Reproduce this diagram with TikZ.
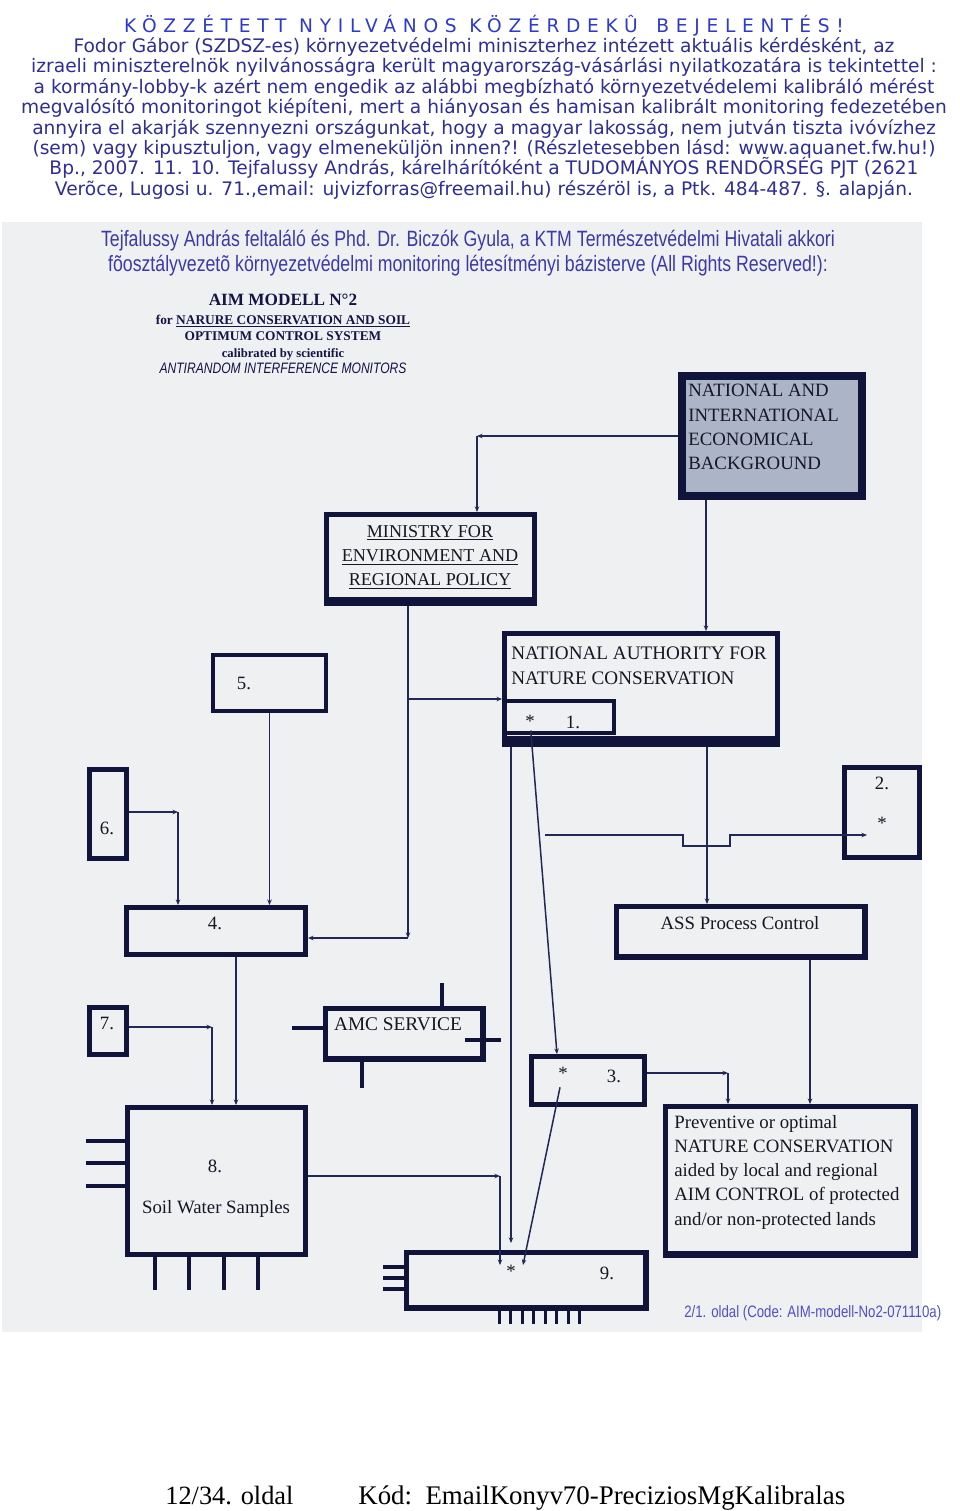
\documentclass[tikz,border=0pt]{standalone}
\usepackage{fontspec}
\setmainfont{Liberation Serif}
\newfontfamily\hdfont{DejaVu Sans}
\newfontfamily\hdwide[LetterSpace=36]{DejaVu Sans}
\newfontfamily\subfont[FakeStretch=0.8]{Liberation Sans}
\usetikzlibrary{arrows.meta, fit, calc}
\definecolor{ink}{RGB}{16,20,58}
\definecolor{wire}{RGB}{34,40,86}
\definecolor{panel}{RGB}{239,240,242}
\definecolor{dots}{RGB}{172,181,199}
\definecolor{hdblue}{RGB}{46,46,150}
\definecolor{hdbright}{RGB}{44,58,205}
\definecolor{subblue}{RGB}{58,58,168}
\definecolor{codeblue}{RGB}{80,80,200}
\definecolor{txt}{RGB}{22,22,36}
\definecolor{ttlc}{RGB}{20,20,70}

\begin{document}
\setlength{\lineskiplimit}{-30pt}
\begin{tikzpicture}[x=0.2mm, y=-0.2mm,
  box/.style={draw=ink, line width=1mm, fill=panel, inner sep=0pt},
  lbl/.style={font=\fontsize{10.7}{13.8}\selectfont, text=txt, inner sep=0pt},
  cn/.style={-{Stealth[length=1.1mm, width=0.9mm]}, wire, line width=0.3mm},
  stub/.style={ink, line width=0.75mm},
  hd/.style={font=\hdfont\fontsize{10.6}{11.6}\selectfont,
             text=hdblue, align=center, inner sep=0pt}
]
\path[fill=white, use as bounding box] (0,0) rectangle (960,1511);
\fill[panel] (2,222) rectangle (922,1332);

% headers
\node[hd] (hdr) at (484,107) {{\hdwide\fontsize{10.6}{11.6}\selectfont\color{hdbright}KÖZZÉTETT NYILVÁNOS KÖZÉRDEKÛ\quad BEJELENTÉS!}\\
  Fodor Gábor (SZDSZ-es) környezetvédelmi miniszterhez intézett aktuális kérdésként, az\\
  izraeli miniszterelnök nyilvánosságra került magyarország-vásárlási nyilatkozatára is tekintettel :\\
  a kormány-lobby-k azért nem engedik az alábbi megbízható környezetvédelemi kalibráló mérést\\
  megvalósító monitoringot kiépíteni, mert a hiányosan és hamisan kalibrált monitoring fedezetében\\
  annyira el akarják szennyezni országunkat, hogy a magyar lakosság, nem jutván tiszta ivóvízhez\\
  (sem) vagy kipusztuljon, vagy elmeneküljön innen?! (Részletesebben lásd: www.aquanet.fw.hu!)\\
  Bp., 2007. 11. 10. Tejfalussy András, kárelhárítóként a TUDOMÁNYOS RENDÕRSÉG PJT (2621\\
  Verõce, Lugosi u. 71.,email: ujvizforras@freemail.hu) részéröl is, a Ptk. 484-487. §. alapján.};
\node[hd, font=\subfont\fontsize{12.6}{14.2}\selectfont, text=subblue] (sub) at (468,253)
  {Tejfalussy András feltaláló és Phd. Dr. Biczók Gyula, a KTM Természetvédelmi Hivatali akkori\\
   fõosztályvezetõ környezetvédelmi monitoring létesítményi bázisterve (All Rights Reserved!):};
\node[font=\fontsize{7.6}{9.4}\selectfont\bfseries, text=ttlc, align=center, inner sep=0pt] (ttl) at (283,334)
  {{\fontsize{9.8}{11}\selectfont AIM MODELL N°2}\\[1pt]
   for \underline{NARURE CONSERVATION AND SOIL}\\
   OPTIMUM CONTROL SYSTEM\\
   {\fontsize{7.2}{9}\selectfont calibrated by scientific}\\
   {\mdseries\subfont\itshape\fontsize{8.6}{9.4}\selectfont ANTIRANDOM INTERFERENCE MONITORS}};

% boxes
\node[box, line width=1.5mm, fill=dots, fit={(682,376) (862,496)}] (nieb) {};
\node[box, fit={(326.5,514.5) (534.5,603.5)}] (min) {};
\node[box, fit={(504.5,633.5) (777.5,744.5)}] (nac) {};
\node[box, line width=0.9mm, fit={(504.5,701) (614,733)}] (one) {};
\node[box, line width=0.9mm, fit={(213,655) (326,711)}] (b5) {};
\node[box, fit={(89.5,769.5) (126.5,858.5)}] (b6) {};
\node[box, fit={(844.5,767.5) (919.5,857.5)}] (b2) {};
\node[box, fit={(126.5,907.5) (305.5,954)}] (b4) {};
\node[box, fit={(616.5,906.5) (865.5,957.5)}] (ass) {};
\node[box, fit={(89.5,1007.5) (126.5,1054.5)}] (b7) {};
\node[box, fit={(325.5,1008.5) (483.5,1059.5)}] (amc) {};
\node[box, fit={(531.5,1056.5) (644.5,1104.5)}] (b3) {};
\node[box, fit={(127,1107.5) (305.5,1254.5)}] (b8) {};
\node[box, fit={(665.5,1106.5) (915.5,1255.5)}] (prev) {};
\node[box, fit={(406.5,1252.5) (646.5,1308.5)}] (b9) {};

% heavy edges
\fill[ink] ([yshift=1.9mm]min.south west) rectangle (min.south east);
\fill[ink] ([yshift=2.3mm]nac.south west) rectangle (nac.south east);
\fill[ink] ([xshift=-1.3mm]ass.north east) rectangle (ass.south east);
\fill[ink] ([yshift=1.2mm]ass.south west) rectangle (ass.south east);
\fill[ink] ([xshift=-1.3mm]amc.north east) rectangle (amc.south east);
\fill[ink] ([yshift=1.3mm]amc.south west) rectangle (amc.south east);
\fill[ink] ([xshift=-1.5mm]prev.north east) rectangle (prev.south east);
\fill[ink] ([yshift=1.5mm]prev.south west) rectangle (prev.south east);
\fill[ink] ([xshift=-1.3mm]b9.north east) rectangle (b9.south east);
\fill[ink] ([yshift=1.3mm]b9.south west) rectangle (b9.south east);

% stubs
\draw[stub] (amc.north -| 442,0) -- ++(0,-23);
\draw[stub] (amc.west |- 0,1028) -- ++(-31,0);
\draw[stub] (465,1040) -- (501,1040);
\draw[stub] (amc.south -| 362,0) -- ++(0,26);
\foreach \x in {155,189,224,258} \draw[stub] (\x,1255) -- (\x,1290);
\foreach \y in {1141,1163,1186} \draw[stub] (86,\y) -- (125,\y);
\foreach \y in {1267,1278,1289} \draw[stub] (383,\y) -- (405,\y);
\foreach \i in {0,...,7} \draw[stub, line width=0.6mm] (499+11.5*\i,1309) -- ++(0,15);

% labels
\node[lbl, anchor=west, align=left] (nieb-t) at (688,427) {NATIONAL AND\\INTERNATIONAL\\ECONOMICAL\\BACKGROUND};
\node[lbl, align=center, font=\fontsize{10.3}{13.7}\selectfont] (min-t) at (430,557)
  {\underline{MINISTRY FOR}\\\underline{ENVIRONMENT AND}\\\underline{REGIONAL POLICY}};
\node[lbl, anchor=west, align=left, font=\fontsize{10.9}{14.2}\selectfont] (nac-t) at (511,666)
  {NATIONAL AUTHORITY FOR\\NATURE CONSERVATION};
\node[lbl] (s1) at (530,721) {*};
\node[lbl] (one-t) at (573,722) {1.};
\node[lbl] (b5-t) at (244,683) {5.};
\node[lbl] (b6-t) at (107,828) {6.};
\node[lbl] (b2-t) at (882,783) {2.};
\node[lbl] (s2) at (882,823) {*};
\node[lbl] (b4-t) at (215,923) {4.};
\node[lbl] (ass-t) at (740,923) {ASS Process Control};
\node[lbl] (b7-t) at (107,1023) {7.};
\node[lbl, font=\fontsize{11}{13}\selectfont] (amc-t) at (398,1024) {AMC SERVICE};
\node[lbl] (s3) at (563,1073) {*};
\node[lbl] (b3-t) at (614,1076) {3.};
\node[lbl] (b8-t) at (215,1166) {8.};
\node[lbl] (soil) at (216,1209) {Soil Water Samples};
\node[lbl, anchor=west, align=left] (prev-t) at (674,1172)
  {Preventive or optimal\\NATURE CONSERVATION\\aided by local and regional\\AIM CONTROL of protected\\and/or non-protected lands};
\node[lbl] (s9) at (511,1271) {*};
\node[lbl] (b9-t) at (607,1273) {9.};

% footers
\node[font=\subfont\fontsize{9.4}{11}\selectfont, text=codeblue, anchor=west, inner sep=0pt] (code) at (684,1313)
  {2/1. oldal (Code: AIM-modell-No2-071110a)};
\node[font=\fontsize{15}{18}\selectfont, anchor=base west, inner sep=0pt] (pg) at (165,1504) {12/34. oldal};
\node[font=\fontsize{15.3}{18}\selectfont, anchor=base west, inner sep=0pt] (kod) at (358,1504)
  {Kód:\ \ EmailKonyv70-PreciziosMgKalibralas};

% connectors
\coordinate (k1) at (477,436);
\draw[cn] (nieb.west) -- (k1);
\draw[cn] (k1) -- (k1 |- min.north);
\draw[cn] (nieb.south -| 706,0) -- (nac.north -| 706,0);
\coordinate (k3) at (408,938);
\draw[cn] (min.south -| k3) -- (k3);
\draw[cn] (k3) -- (k3 -| b4.east);
\coordinate (k4) at (408,699);
\draw[cn] (k4) -- (k4 -| nac.west);
\draw[cn] (nac.south -| 707,0) -- (ass.north -| 707,0);
\coordinate (k9c) at (511,1243);
\draw[cn] (nac.south -| k9c) -- (k9c);
\draw[cn, shorten <=0.6mm] (s1) -- (b3.north -| 557,0);
\coordinate (k9b) at (523,1265);
\draw[cn, shorten <=1.6mm] (s3) -- (k9b);
\coordinate (k8) at (500,1176);
\coordinate (k9a) at (500,1265);
\draw[cn] (b8.east |- k8) -- (k8);
\draw[cn] (k8) -- (k9a);
\coordinate (k6) at (178,812);
\draw[cn] (b6.east |- k6) -- (k6);
\draw[cn] (k6) -- (k6 |- b4.north);
\draw[cn] (b5.south) -- (b5.south |- b4.north);
\draw[cn] (b4.south -| 236,0) -- (b8.north -| 236,0);
\coordinate (k7) at (212,1027);
\draw[cn] (b7.east |- k7) -- (k7);
\draw[cn] (k7) -- (k7 |- b8.north);
\draw[cn] (ass.south -| 810,0) -- (prev.north -| 810,0);
\coordinate (k3r) at (728,1073);
\draw[cn] (b3.east |- k3r) -- (k3r);
\draw[cn] (k3r) -- (k3r |- prev.north);
\coordinate (kb) at (545,835);
\coordinate (k2) at (867,835);
\draw[cn] (kb) -- ++(138,0) -- ++(0,11) -- ++(47,0) -- ++(0,-11) -- (k2);
\end{tikzpicture}
\end{document}
